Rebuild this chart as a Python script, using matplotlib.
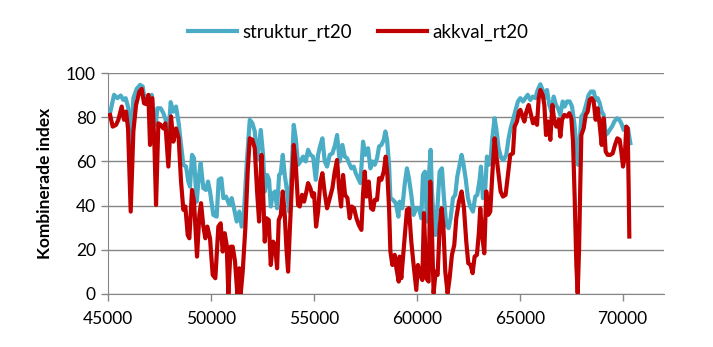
import matplotlib
matplotlib.use("Agg")
import matplotlib.pyplot as plt

# -------------------------------------------------------------------
# DATA
# -------------------------------------------------------------------

struktur_x = [
    45081, 45275, 45437, 45599, 45729, 45842, 45972, 46085, 46215, 46377,
    46539, 46669, 46750, 46863, 46993, 47106, 47187, 47300, 47381, 47543,
    47673, 47786, 47900, 48029, 48159, 48289, 48418, 48515, 48645, 48775,
    48888, 48969, 49066, 49163, 49293, 49390, 49487, 49617, 49747, 49844,
    49941, 50103, 50265, 50362, 50492, 50589, 50719, 50881, 50994, 51107,
    51237, 51367, 51480, 51593, 51723,
    51873, 52003, 52116, 52229, 52408, 52521, 52602, 52715, 52813, 52894,
    53007, 53104, 53201, 53299, 53380, 53477, 53574, 53687, 53785, 53898,
    54011, 54109, 54222, 54335, 54465, 54595, 54708, 54821, 54951, 55081,
    55194, 55307, 55404, 55518, 55631, 55761, 55890, 56020, 56117, 56247,
    56377, 56490, 56603, 56701, 56814, 56927, 57025, 57138, 57251, 57381,
    57494, 57624, 57737, 57835, 57948, 58061, 58158, 58272, 58385, 58466,
    58547, 58645, 58709, 58839, 58969, 59098,
    59158, 59288, 59401, 59514, 59612, 59725, 59838, 59968, 60098, 60211,
    60292, 60389, 60486, 60584, 60665, 60729, 60810, 60908, 61005, 61102,
    61215, 61313, 61426, 61539, 61637, 61750, 61863, 61961, 62074, 62171,
    62268, 62366, 62479, 62592, 62722, 62835, 62933, 63046, 63111, 63208,
    63305, 63402, 63483, 63564, 63662, 63775, 63856, 63969, 64099, 64212,
    64342, 64455, 64553, 64666, 64796, 64909,
    65027, 65157, 65270, 65383, 65513, 65626, 65756, 65869, 65999, 66112,
    66210, 66323, 66436, 66534, 66647, 66760, 66858, 66971, 67084, 67182,
    67295, 67425, 67538, 67651, 67749, 67830, 67911, 67992, 68105, 68218,
    68348, 68461, 68591, 68688, 68785, 68883, 68980, 69077, 69174, 69271,
    69368, 69482, 69595, 69725, 69838, 69935, 70049, 70162, 70259, 70373,
]
struktur_y = [
    81.9, 90.2, 88.7, 89.9, 87.9, 88.7, 84.1, 63.0, 88.7, 92.9,
    94.7, 94.0, 88.7, 89.4, 88.0, 90.2, 77.3, 76.6, 84.1, 84.1,
    81.9, 78.9, 69.0, 86.9, 82.6, 84.9, 77.3, 69.0, 58.5, 57.7,
    50.9, 48.6, 63.0, 61.5, 41.8, 52.4, 59.2, 47.9, 47.1, 50.9,
    46.4, 35.8, 35.0, 51.7, 52.4, 43.4, 44.1, 40.3, 43.4, 38.8,
    32.8, 37.3, 30.5, 37.3, 58.5,
    78.9, 77.3, 73.6, 60.7, 74.3, 63.0, 46.4, 53.9, 51.7, 39.6,
    45.6, 46.4, 38.8, 53.9, 54.7, 63.0, 53.9, 46.4, 37.3, 53.9,
    76.6, 70.5, 58.5, 60.0, 62.2, 60.0, 65.3, 63.0, 62.2, 51.7,
    63.0, 67.5, 70.5, 60.0, 57.7, 63.0, 63.7, 67.5, 72.0, 60.0,
    67.5, 62.2, 61.5, 59.2, 56.9, 57.7, 54.7, 52.4, 50.2, 69.0,
    63.0, 66.0, 56.9, 60.0, 58.5, 61.5, 66.8, 67.5, 69.8, 73.6,
    69.8, 58.5, 43.4, 42.6, 41.1, 35.0,
    41.8, 38.8, 49.4, 56.9, 52.4, 44.9, 35.8, 38.8, 38.8, 34.3,
    53.9, 55.4, 32.8, 53.9, 65.3, 46.4, 34.3, 26.7, 40.3, 55.4,
    56.9, 43.4, 31.3, 29.8, 34.3, 43.4, 44.9, 53.2, 58.5, 63.0,
    58.5, 52.4, 43.4, 39.6, 37.3, 44.1, 44.9, 51.7, 57.7, 43.4,
    44.9, 62.2, 58.5, 59.2, 70.5, 79.6, 75.0, 66.0, 61.5, 60.7,
    63.0, 70.5, 75.0, 78.9, 83.4, 87.2,
    88.7, 87.2, 88.7, 90.2, 87.9, 89.4, 88.7, 92.4, 95.0, 92.4,
    88.7, 92.4, 85.6, 82.6, 89.4, 85.6, 84.1, 81.1, 87.2, 84.9,
    87.2, 87.2, 84.9, 77.3, 67.5, 58.5, 69.0, 80.4, 81.9, 85.6,
    90.2, 91.7, 91.7, 87.9, 88.7, 86.4, 82.6, 81.1, 72.0, 72.8,
    74.3, 75.8, 78.1, 79.6, 78.9, 77.3, 74.3, 75.8, 75.0, 68.3,
]

akkval_x = [
    45081, 45211, 45373, 45486, 45648, 45761, 45859, 45956, 46085, 46215,
    46345, 46507, 46620, 46733, 46831, 46944, 47025, 47138, 47236, 47317,
    47430, 47543, 47673, 47770, 47916, 48046, 48159, 48289, 48418, 48532,
    48645, 48742, 48856, 48937, 49066, 49163, 49309, 49423, 49504, 49617,
    49714, 49811, 49941, 50071, 50200, 50346, 50459, 50557, 50654, 50751,
    50832, 50946, 51043, 51156, 51269, 51367, 51431, 51529, 51658, 51772,
    51873, 52003, 52116, 52229, 52327, 52440, 52521, 52602, 52683, 52796,
    52894, 53007, 53104, 53201, 53282, 53380, 53477, 53574, 53655, 53736,
    53817, 53930, 54011, 54109, 54222, 54303, 54416, 54514, 54627, 54708,
    54821, 54919, 55000, 55097, 55194, 55307, 55404, 55518, 55631, 55761,
    55890, 56004, 56117, 56215, 56312, 56409, 56506, 56620, 56733, 56830,
    56944, 57057, 57170, 57300, 57381, 57462, 57543, 57656, 57770, 57867,
    57948, 58061, 58158, 58272, 58385, 58482, 58564, 58645, 58709, 58806,
    58920, 59001, 59114,
    59158, 59239, 59320, 59401, 59514, 59612, 59725, 59838, 59968, 60049,
    60162, 60260, 60341, 60454, 60567, 60648, 60729, 60810, 60908, 61005,
    61102, 61199, 61280, 61377, 61491, 61588, 61701, 61815, 61912, 62042,
    62171, 62285, 62398, 62495, 62609, 62706, 62803, 62916, 63014, 63078,
    63176, 63273, 63370, 63467, 63564, 63662, 63775, 63856, 63969, 64067,
    64180, 64310, 64423, 64536, 64666, 64747, 64860, 64958,
    65027, 65108, 65221, 65319, 65432, 65545, 65643, 65756, 65837, 65918,
    65999, 66112, 66193, 66274, 66371, 66485, 66582, 66679, 66776, 66890,
    66971, 67052, 67165, 67295, 67408, 67506, 67587, 67668, 67749, 67813,
    67878, 67943, 67992, 68105, 68202, 68299, 68396, 68494, 68591, 68688,
    68785, 68883, 68980, 69077, 69174, 69271, 69401, 69514, 69628, 69741,
    69855, 69935, 70016, 70098, 70178, 70243, 70292, 70324,
]
akkval_y = [
    81.1, 75.8, 76.6, 78.9, 84.9, 78.9, 82.6, 75.0, 37.3, 73.6,
    85.6, 91.7, 92.9, 86.4, 86.0, 90.2, 67.5, 88.7, 68.3, 40.3,
    77.3, 76.6, 75.0, 77.3, 57.7, 80.4, 69.0, 75.0, 70.5, 50.9,
    38.1, 39.6, 26.7, 25.2, 47.1, 41.8, 16.9, 35.8, 41.1, 30.5,
    25.2, 30.5, 25.2, 8.6, 7.1, 30.5, 32.0, 19.2, 27.5, 22.2,
    0.0, 21.4, 21.4, 14.7, 0.0, 11.6, 0.0, 10.0, 29.8, 55.4,
    70.5, 69.8, 66.0, 46.4, 32.8, 63.0, 46.4, 23.7, 34.3, 33.5,
    13.1, 23.7, 22.2, 11.6, 33.5, 35.8, 46.4, 35.8, 20.7, 10.1,
    28.2, 50.9, 67.5, 58.5, 40.3, 39.6, 44.9, 41.8, 46.4, 50.2,
    47.9, 44.1, 45.6, 30.5, 37.3, 50.9, 54.7, 45.6, 38.8, 43.4,
    47.9, 55.4, 60.7, 47.9, 39.6, 53.9, 44.9, 43.4, 34.3, 39.6,
    38.8, 34.3, 31.3, 29.0, 45.6, 55.4, 44.1, 50.9, 38.8, 38.1,
    42.6, 42.6, 52.4, 51.7, 55.4, 62.2, 53.9, 38.8, 19.2, 13.1,
    17.7, 11.6, 5.6,
    16.9, 7.1, 16.2, 25.2, 38.1, 38.8, 23.7, 13.1, 1.8, 13.1,
    8.6, 6.3, 36.6, 7.1, 5.6, 50.9, 28.2, 0.3, 10.1, 8.6,
    29.8, 38.8, 31.3, 10.1, 0.3, 7.1, 17.7, 22.2, 34.3, 41.8,
    46.4, 38.8, 23.7, 13.9, 13.1, 9.4, 16.9, 17.7, 28.2, 38.8,
    26.0, 18.4, 46.4, 35.8, 37.3, 53.9, 70.5, 63.0, 53.9, 46.4,
    44.1, 44.9, 53.9, 63.0, 63.7, 75.8, 78.1, 82.6,
    83.4, 81.1, 78.1, 82.6, 85.6, 81.1, 77.3, 79.6, 76.6, 88.7,
    92.4, 90.2, 85.6, 72.0, 78.1, 69.8, 85.6, 78.1, 75.8, 78.9,
    71.3, 78.9, 81.1, 80.4, 81.9, 79.6, 69.0, 43.4, 13.1, 0.3,
    19.2, 50.9, 72.0, 75.0, 81.1, 82.6, 87.9, 88.7, 87.2, 78.9,
    84.1, 76.6, 67.5, 79.6, 64.5, 63.0, 63.0, 63.7, 67.5, 70.5,
    69.8, 64.5, 57.7, 61.5, 75.8, 75.0, 47.9, 26.0,
]

x_ticks = [45000, 50000, 55000, 60000, 65000, 70000]
y_ticks = [0, 20, 40, 60, 80, 100]

BLUE = "#4BACC6"
RED = "#C00000"
GRID = "#868686"


# -------------------------------------------------------------------
# PLOT
# -------------------------------------------------------------------

def main():
    plt.rcParams["font.family"] = ["Lato", "DejaVu Sans"]

    fig = plt.figure(figsize=(7.13, 3.47), dpi=100)
    ax = fig.add_axes([0.152, 0.153, 0.779, 0.636])

    ax.plot(struktur_x, struktur_y, color=BLUE, lw=3.0,
            solid_joinstyle="round", label="struktur_rt20", zorder=3)
    ax.plot(akkval_x, akkval_y, color=RED, lw=3.0,
            solid_joinstyle="round", label="akkval_rt20", zorder=4)

    ax.set_xlim(45000, 72000)
    ax.set_ylim(0, 100)
    ax.set_xticks(x_ticks)
    ax.set_yticks(y_ticks)
    ax.tick_params(labelsize=12.5, colors="black", length=5, width=1)
    ax.tick_params(axis="both", color=GRID)
    ax.tick_params(axis="x", pad=7)
    ax.tick_params(axis="y", pad=4)

    ax.grid(axis="y", color=GRID, lw=1)
    ax.set_axisbelow(True)
    for side in ["top", "right"]:
        ax.spines[side].set_visible(False)
    for side in ["left", "bottom"]:
        ax.spines[side].set_color(GRID)

    ax.set_ylabel("Kombinerade index", fontsize=12.5, fontweight="bold",
                  labelpad=9)

    ax.legend(loc="lower center", bbox_to_anchor=(0.45, 1.07), ncol=2,
              frameon=False, fontsize=13.5, handlelength=2.6,
              columnspacing=1.4, handletextpad=0.3)

    fig.savefig("out.png", dpi=100)
    plt.close(fig)


if __name__ == "__main__":
    main()
